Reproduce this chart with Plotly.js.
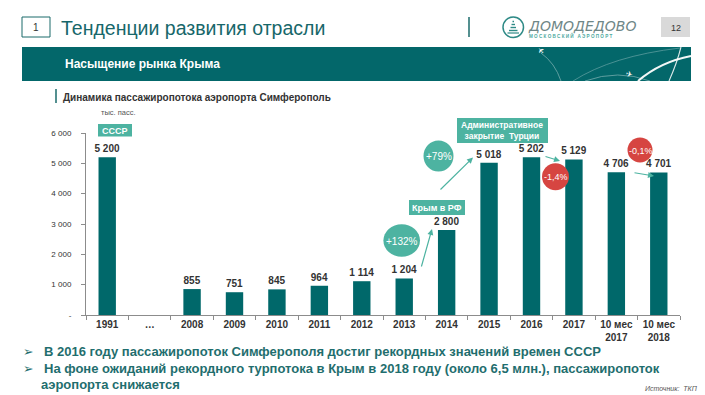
<!DOCTYPE html>
<html>
<head>
<meta charset="utf-8">
<script src="https://cdn.plot.ly/plotly-3.0.1.min.js"></script>
<style>
html,body{margin:0;padding:0;background:#fff;}
#chart{width:705px;height:395px;}
</style>
</head>
<body>
<div id="chart"></div>
<script>
// ---- data ----
const categories = ["1991", "…", "2008", "2009", "2010", "2011", "2012", "2013", "2014", "2015", "2016", "2017", "10 мес<br>2017", "10 мес<br>2018"];
const passengers = [5200, null, 855, 751, 845, 964, 1114, 1204, 2800, 5018, 5202, 5129, 4706, 4701];
const yTickValues = [0, 1000, 2000, 3000, 4000, 5000, 6000];
const yTickLabels = ["-", "1 000", "2 000", "3 000", "4 000", "5 000", "6 000"];

// ---- helpers ----
function fmt(v){ if(v===null) return ""; return String(v).replace(/\B(?=(\d{3})+(?!\d))/g, " "); }
const L = 86, R = 680, T = 133, B = 315, W = R - L, H = B - T;
const px = x => (x - L) / W;
const py = y => (B - y) / H;

const TEAL = "#00686A";
const LIGHT = "#4DB3A1";
const RED = "#D64541";
const FONT = "Liberation Sans, Arial, sans-serif";

const trace = {
  type: "bar",
  x: categories,
  y: passengers,
  text: passengers.map(fmt),
  textposition: "outside",
  constraintext: "none",
  cliponaxis: false,
  textfont: {family: FONT, size: 10, color: "#333", weight: "bold"},
  marker: {color: TEAL},
  hoverinfo: "skip"
};

const shapes = [];
const ann = [];

function rect(x0, y0, x1, y1, fill, line){
  shapes.push({type: "rect", xref: "paper", yref: "paper", x0: px(x0), x1: px(x1), y0: py(y1), y1: py(y0),
    fillcolor: fill, line: line || {width: 0}, layer: "above"});
}
function ellipse(cx, cy, rx, ry, fill){
  shapes.push({type: "circle", xref: "paper", yref: "paper", x0: px(cx - rx), x1: px(cx + rx), y0: py(cy + ry), y1: py(cy - ry),
    fillcolor: fill, line: {width: 0}, layer: "above"});
}
function line(x0, y0, x1, y1, color, width, opacity){
  shapes.push({type: "line", xref: "paper", yref: "paper", x0: px(x0), x1: px(x1), y0: py(y0), y1: py(y1),
    line: {color: color, width: width}, opacity: opacity === undefined ? 1 : opacity, layer: "above"});
}
function path(d, color, width, opacity){
  let s = "", i = 0;
  while(i < d.length){
    const t = d[i];
    if(typeof t === "string"){ s += t + " "; i++; }
    else { s += px(d[i]).toFixed(5) + "," + py(d[i+1]).toFixed(5) + " "; i += 2; }
  }
  shapes.push({type: "path", xref: "paper", yref: "paper", path: s.trim(),
    line: {color: color, width: width}, opacity: opacity === undefined ? 1 : opacity, layer: "above"});
}
function text(x, y, t, size, color, opts){
  opts = opts || {};
  ann.push(Object.assign({xref: "paper", yref: "paper", x: px(x), y: py(y), text: t, showarrow: false,
    xanchor: opts.xanchor || "left", yanchor: "middle",
    font: {family: opts.family || FONT, size: size, color: color, weight: opts.weight || "normal", style: opts.style || "normal"}},
    opts.extra || {}));
}
function arrow(tx, ty, hx, hy){
  ann.push({xref: "paper", yref: "paper", x: px(hx), y: py(hy), ax: tx - hx, ay: ty - hy, text: "",
    showarrow: true, arrowhead: 2, arrowsize: 1, arrowwidth: 1.2, arrowcolor: LIGHT, standoff: 0});
}

// ---- header ----
rect(22, 17, 50, 37, "#ffffff", {color: "#1B6B6B", width: 1});
text(36, 27.5, "1", 10, "#333", {xanchor: "center"});
text(59, 28, "Тенденции развития отрасли", 19.5, "#17676A");
line(469, 17, 469, 37, "#1B6B6B", 1.5);
// logo
shapes.push({type: "circle", xref: "paper", yref: "paper", x0: px(503), x1: px(523.5), y0: py(37.5), y1: py(17),
  fillcolor: "rgba(0,0,0,0)", line: {color: "#2E8A86", width: 1.5}, layer: "above"});
line(512.5, 21.5, 514, 21.5, "#2E8A86", 1.4);
line(511.5, 24.5, 515, 24.5, "#2E8A86", 1.4);
line(510.5, 27.5, 516, 27.5, "#2E8A86", 1.4);
line(509, 30.5, 517.5, 30.5, "#2E8A86", 1.4);
line(507.5, 33, 519, 33, "#2E8A86", 1.2);
text(526, 26, "ДОМОДЕДОВО", 14, "#6F8787", {style: "italic", family: "DejaVu Sans, Liberation Sans, sans-serif", extra: {}});
text(527, 35.5, "М О С К О В С К И Й &nbsp; А Э Р О П О Р Т", 4.6, "#4DA9A0", {weight: "bold"});
rect(661, 17, 690, 37, "#D9D9D9");
text(675.5, 27.5, "12", 9, "#333", {xanchor: "center"});

// ---- banner ----
rect(22, 47, 691, 81, "#03676A");
text(63, 64, "Насыщение рынка Крыма", 12, "#ffffff", {weight: "bold"});
path(["M", 541, 53, "Q", 555, 63, 561, 81], "#ffffff", 0.8, 0.45);
path(["M", 573, 81, "Q", 612, 56, 680, 48], "#ffffff", 0.8, 0.35);
path(["M", 585, 81, "Q", 618, 69, 650, 81], "#ffffff", 0.8, 0.45);
path(["M", 638, 81, "Q", 660, 62, 691, 56], "#ffffff", 2, 0.95);
path(["M", 669, 81, "Q", 677, 63, 681, 47], "#ffffff", 1.1, 0.85);
text(541, 51, "✈", 8, "#ffffff", {xanchor: "center", family: "DejaVu Sans", extra: {textangle: -130}});
text(629, 74, "✈", 8, "#ffffff", {xanchor: "center", family: "DejaVu Sans", extra: {textangle: 15}});

// ---- chart subtitle ----
line(56, 89, 56, 103, "#1B6B6B", 1.5);
text(61, 97, "Динамика пассажиропотока аэропорта Симферополь", 10, "#333", {weight: "bold"});
text(99, 112, "тыс. пасс.", 7.5, "#555");

// ---- labels / boxes ----
rect(98, 124, 132, 136.5, LIGHT);
text(115, 130.5, "СССР", 9, "#fff", {xanchor: "center", weight: "bold"});
rect(409, 200, 465, 215, LIGHT);
text(437, 207.5, "Крым в РФ", 9, "#fff", {xanchor: "center", weight: "bold"});
rect(457, 118, 548, 143, LIGHT);
text(502.5, 130.5, "Административное<br>закрытие  Турции", 8.5, "#fff", {xanchor: "center", weight: "bold"});

// circles
ellipse(401.7, 240.5, 18.3, 16.3, LIGHT);
text(401.7, 241, "+132%", 10, "#fff", {xanchor: "center"});
ellipse(438.5, 156, 15, 15.5, LIGHT);
text(438.5, 156.5, "+79%", 10, "#fff", {xanchor: "center"});
ellipse(555.5, 176.7, 13.5, 13.5, RED);
text(555.5, 177, "-1,4%", 9, "#fff", {xanchor: "center"});
ellipse(640, 150, 12.5, 12.5, RED);
text(641, 150.5, "-0,1%", 9, "#fff", {xanchor: "center"});

// arrows
arrow(421, 268, 432, 229);
arrow(439, 191, 473, 157.5);
arrow(544, 156, 560, 161);
arrow(633, 172.5, 654, 176);

// ---- bottom bullets ----
const BUL = "#1F6E6E";
text(21, 351.5, "➢", 12.5, BUL, {family: "DejaVu Sans"});
text(42, 351.5, "В 2016 году пассажиропоток Симферополя достиг рекордных значений времен СССР", 13, BUL, {weight: "bold"});
text(21, 368, "➢", 12.5, BUL, {family: "DejaVu Sans"});
text(42, 368, "На фоне ожиданий рекордного турпотока в Крым в 2018 году (около 6,5 млн.), пассажиропоток", 13, BUL, {weight: "bold"});
text(39, 384, "аэропорта снижается", 13, BUL, {weight: "bold"});
text(700, 388, "Источник:  ТКП", 7, "#555", {xanchor: "right", style: "italic"});

const layout = {
  width: 705, height: 395,
  margin: {l: L, r: 705 - R, t: T, b: 395 - B, pad: 0},
  paper_bgcolor: "#ffffff", plot_bgcolor: "#ffffff",
  showlegend: false,
  bargap: 0.59,
  font: {family: FONT},
  xaxis: {
    type: "category", showline: true, linecolor: "#8C8C8C", linewidth: 1,
    ticks: "outside", tickson: "boundaries", ticklen: 4, tickcolor: "#8C8C8C",
    tickfont: {family: FONT, size: 10, color: "#333", weight: "bold"},
    showgrid: false, zeroline: false, fixedrange: true
  },
  yaxis: {
    range: [0, 6000], showline: true, linecolor: "#8C8C8C", linewidth: 1,
    ticks: "outside", ticklen: 4, tickcolor: "#8C8C8C",
    tickvals: yTickValues, ticktext: yTickLabels,
    tickfont: {family: FONT, size: 8, color: "#333"},
    ticklabelstandoff: 8,
    showgrid: false, zeroline: false, fixedrange: true
  },
  shapes: shapes,
  annotations: ann
};

Plotly.newPlot("chart", [trace], layout, {displayModeBar: false, staticPlot: true});
</script>
</body>
</html>
